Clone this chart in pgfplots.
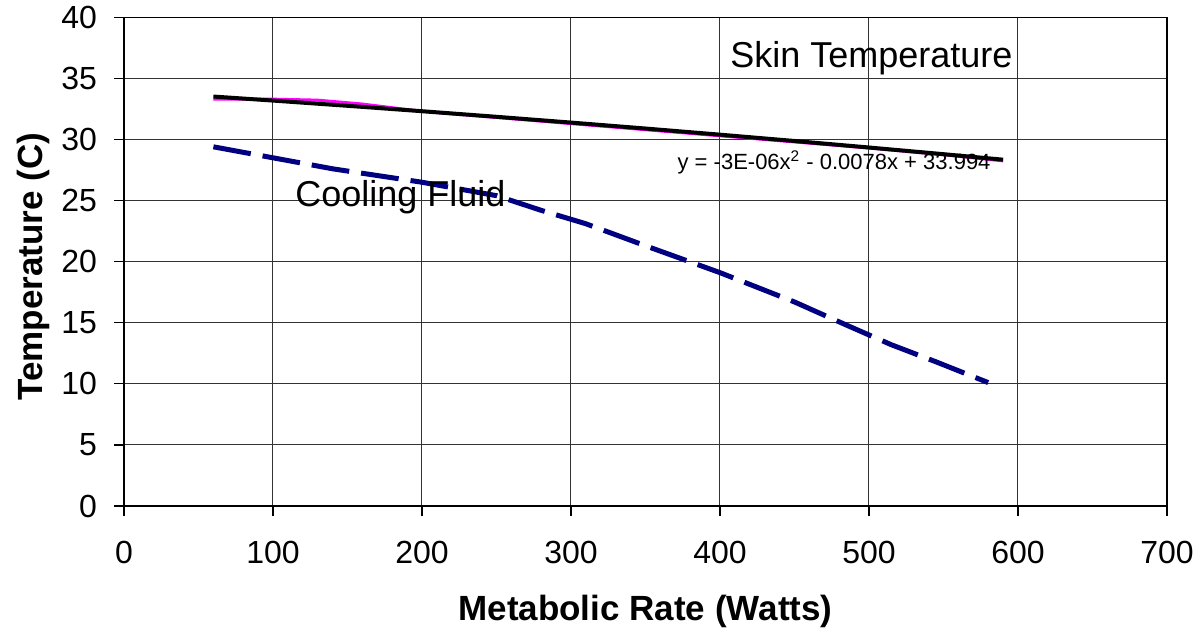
\documentclass[border=0pt]{standalone}
\usepackage{fontspec}
\setmainfont{Liberation Sans}
\usepackage{pgfplots}
\pgfplotsset{compat=1.18}
\definecolor{skinmag}{RGB}{255,0,255}
\definecolor{coolnavy}{RGB}{0,0,128}
\begin{document}
\begin{tikzpicture}
\useasboundingbox (-62pt,-61.5pt) rectangle (538.5pt,253pt);
\begin{axis}[
  scale only axis,
  width=521.5pt, height=244.35pt,
  xmin=0, xmax=700, ymin=0, ymax=40,
  xtick={0,100,...,700}, ytick={0,5,...,40},
  tick pos=left,
  grid=major,
  major grid style={black!80, line width=0.5pt},
  axis line style={black, line width=0.6pt},
  tick align=outside,
  major tick length=5pt,
  tick style={black, line width=0.6pt},
  /pgf/number format/assume math mode=true,
  ticklabel style={font=\fontsize{16}{19}\selectfont},
  yticklabel style={xshift=-5pt},
  xticklabel style={yshift=-9pt},
  xlabel={Metabolic Rate (Watts)},
  ylabel={Temperature (C)},
  label style={font=\fontsize{17.5}{21}\selectfont\bfseries},
  xlabel style={at={(axis description cs:0.5,-0.2333)}, anchor=base},
  ylabel style={at={(axis description cs:-0.0786,0.49)}, anchor=base},
  clip=false,
]
\addplot[skinmag, line width=1.5pt] coordinates {
 (60,33.3) (100,33.3) (130,33.22) (160,32.9) (200,32.3) (250,31.8) (300,31.3)
 (350,30.8) (400,30.3) (450,29.8) (500,29.3) (550,28.75) (590,28.25)
};
\addplot[black, line width=2pt] coordinates {
 (60,33.515) (100,33.184) (150,32.757) (200,32.314) (250,31.857) (300,31.384)
 (350,30.897) (400,30.394) (450,29.877) (500,29.344) (550,28.797) (590,28.348)
};
\addplot[coolnavy, line width=2.5pt, dash pattern=on 19pt off 6pt] coordinates {
 (60,29.4) (100,28.5) (140,27.6) (200,26.5) (250,25.4) (280,24.2) (310,23.1)
 (350,21.3) (400,19.1) (450,16.7) (485,14.8) (515,13.2) (545,11.8) (580,10.1)
};
\node[anchor=base west, inner sep=0pt, font=\fontsize{18}{21}\selectfont] at (axis cs:406.7,35.9) {Skin Temperature};
\node[anchor=base west, inner sep=0pt, font=\fontsize{18}{21}\selectfont] at (axis cs:114.8,24.49) {Cooling Fluid};
\node[anchor=base west, inner sep=0pt, font=\fontsize{11}{13}\selectfont] at (axis cs:371.3,27.55) {y = -3E-06x\textsuperscript{2} - 0.0078x + 33.994};
\end{axis}
\end{tikzpicture}
\end{document}
